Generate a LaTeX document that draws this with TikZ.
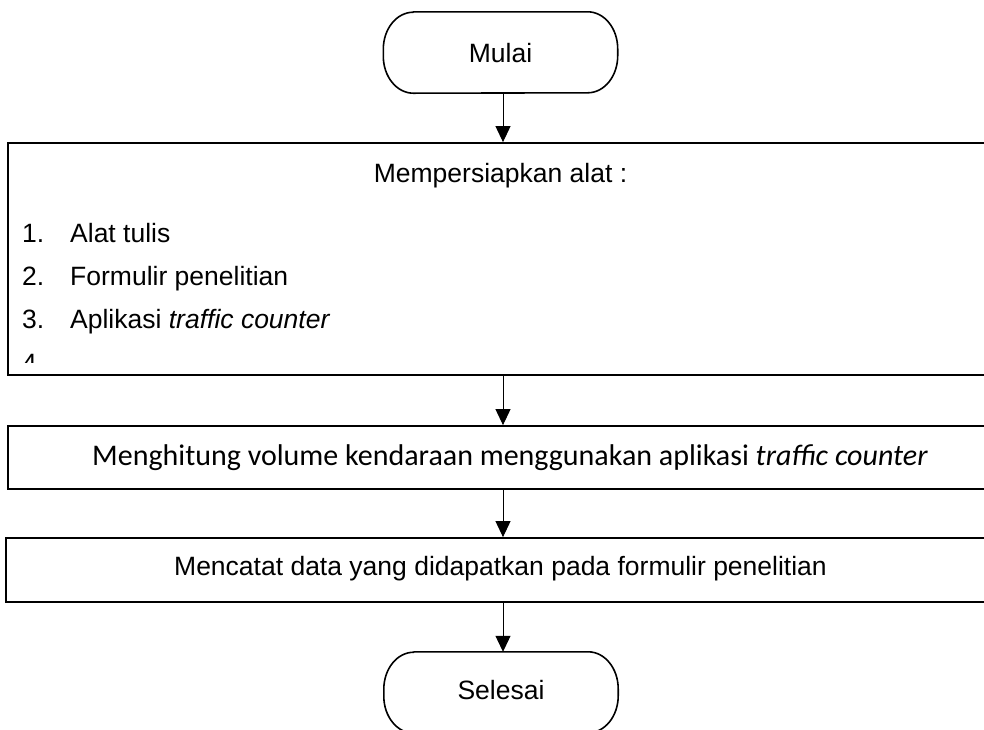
\documentclass[tikz,border=0pt]{standalone}
\usepackage{fontspec}
\setmainfont{Liberation Sans}
\newfontfamily\calfont{Carlito}
\usetikzlibrary{arrows.meta}
\tikzset{
  term/.style={rectangle, minimum width=234pt, minimum height=81pt, inner sep=0pt},
  termline/.style={line width=1.6pt, line join=round},
  procbox/.style={draw, line width=1.8pt, rectangle, inner sep=0pt},
  txt/.style={anchor=base, inner sep=0pt, font=\fontsize{26.5}{30}\selectfont},
  ltxt/.style={anchor=base west, inner sep=0pt, font=\fontsize{26.5}{30}\selectfont},
  ctxt/.style={anchor=base, inner sep=0pt, font=\calfont\fontsize{30}{34}\selectfont},
  arr/.style={line width=1pt, -{Triangle[width=15pt,length=16pt]}}
}
\newcommand\termoutline[1]{%
  \draw[termline] ([xshift=30pt]#1.north west) -- ([xshift=-30pt]#1.north east)
    arc[start angle=90, end angle=0, x radius=30pt, y radius=37pt]
    -- ++(0,-7)
    arc[start angle=0, end angle=-90, x radius=30pt, y radius=37pt]
    -- ([xshift=30pt]#1.south west)
    arc[start angle=270, end angle=180, x radius=30pt, y radius=37pt]
    -- ++(0,7)
    arc[start angle=180, end angle=90, x radius=30pt, y radius=37pt] -- cycle;}
\begin{document}
\begin{tikzpicture}[x=1pt,y=1pt]
\useasboundingbox (0,0) rectangle (984,-729);
\clip (0,0) rectangle (984,-729);
\fill[white] (0,0) rectangle (984,-729);
% arrow axis
\coordinate (ax) at (503,0);
% terminals
\node[term] (t1) at (500.5,-52.5) {};
\termoutline{t1}
\node[txt] (t1t) at (500.5,-62) {Mulai};
\node[term] (t2) at (501,-692.5) {};
\termoutline{t2}
\node[txt] (t2t) at (501,-699) {Selesai};
% box 1
\node[procbox, minimum width=1002pt, minimum height=232pt] (b1) at (509,-259) {};
\node[txt] (b1h) at (500.5,-182) {Mempersiapkan alat :};
\node[ltxt] (n1) at (22,-242) {1.};
\node[ltxt] (i1) at (70,-242) {Alat tulis};
\node[ltxt] (n2) at (22,-285) {2.};
\node[ltxt] (i2) at (70,-285) {Formulir penelitian};
\node[ltxt] (n3) at (22,-328) {3.};
\node[ltxt] (i3) at (70,-328) {Aplikasi \textit{traffic counter}};
\begin{scope}
  \clip (10,-340) rectangle (200,-362);
  \node[ltxt] (n4) at (22,-372) {4.};
\end{scope}
% box 2
\node[procbox, minimum width=1002pt, minimum height=63pt] (b2) at (509,-457.5) {};
\node[ctxt] (b2t) at (510,-465) {Menghitung volume kendaraan menggunakan aplikasi \textit{traffic counter}};
% box 3
\node[procbox, minimum width=1004pt, minimum height=64pt] (b3) at (508,-570) {};
\node[txt] (b3t) at (500.5,-575) {Mencatat data yang didapatkan pada formulir penelitian};
% connectors
\draw[arr] (t1.south -| ax) -- (b1.north -| ax);
\draw[arr] (b1.south -| ax) -- (b2.north -| ax);
\draw[arr] (b2.south -| ax) -- (b3.north -| ax);
\draw[arr] (b3.south -| ax) -- (t2.north -| ax);
\end{tikzpicture}
\end{document}
